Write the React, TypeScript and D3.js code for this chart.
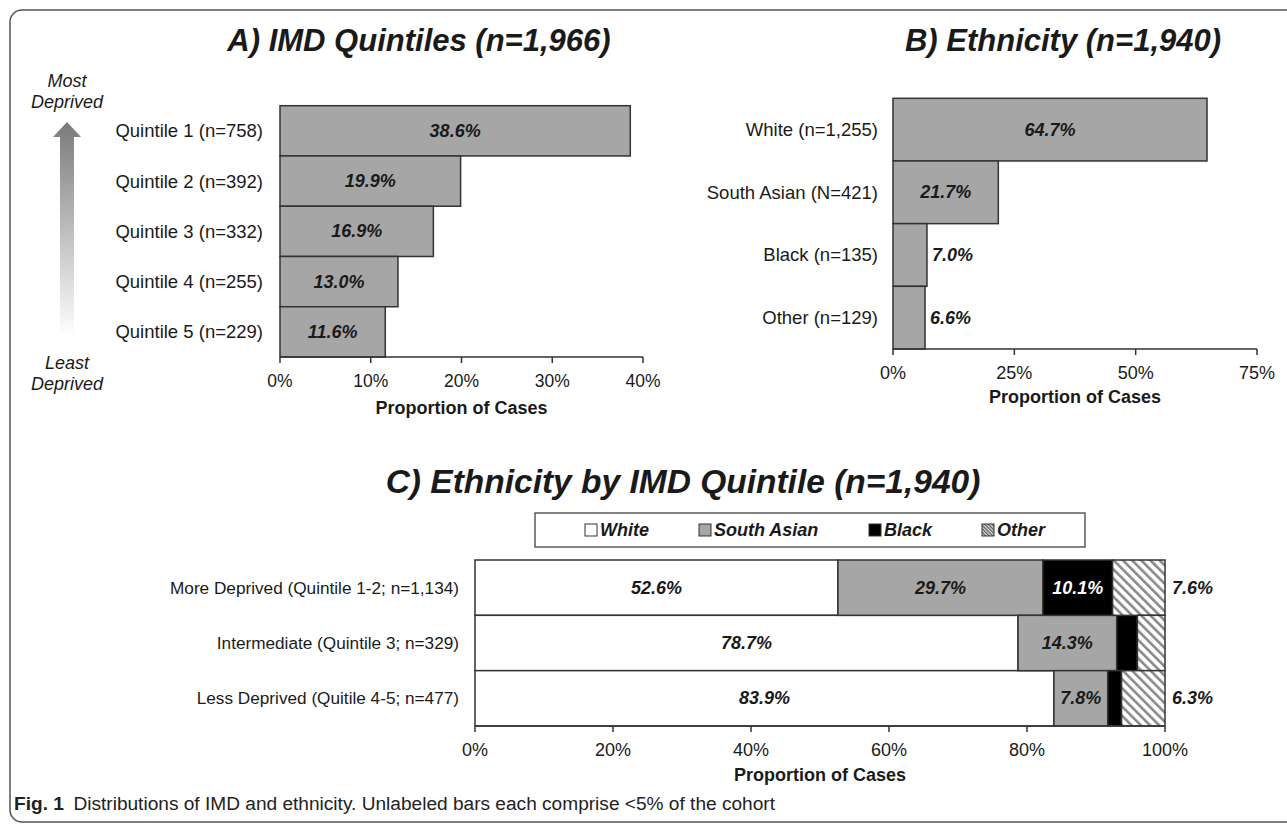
import React from 'react';
import * as d3 from 'd3';

const quintileLabels = ['Quintile 1 (n=758)', 'Quintile 2 (n=392)', 'Quintile 3 (n=332)', 'Quintile 4 (n=255)', 'Quintile 5 (n=229)'];
const quintileValues = [38.6, 19.9, 16.9, 13.0, 11.6];
const quintileTicks = [0, 10, 20, 30, 40];

const ethnicityLabels = ['White (n=1,255)', 'South Asian (N=421)', 'Black (n=135)', 'Other (n=129)'];
const ethnicityValues = [64.7, 21.7, 7.0, 6.6];
const ethnicityTicks = [0, 25, 50, 75];

const groupLabels = ['More Deprived (Quintile 1-2; n=1,134)', 'Intermediate (Quintile 3; n=329)', 'Less Deprived (Quitile 4-5; n=477)'];
const seriesNames = ['White', 'South Asian', 'Black', 'Other'];
const whiteValues = [52.6, 78.7, 83.9];
const southAsianValues = [29.7, 14.3, 7.8];
const blackValues = [10.1, 3.0, 2.0];
const otherValues = [7.6, 4.0, 6.3];
const groupTicks = [0, 20, 40, 60, 80, 100];

const FONT = 'Liberation Sans, Arial, sans-serif';
const GRAY = '#a6a6a6';
const STROKE = '#333';
const TXT = '#1a1a1a';

function fmt(v: number) {
  return v.toFixed(1) + '%';
}

function Axis({ x, y, ticks, title, titleY, labelY, tickSize }: any) {
  const [r0, r1] = x.range();
  return (
    <g>
      <line x1={r0} x2={r1} y1={y} y2={y} stroke={STROKE} strokeWidth={1.5} />
      {ticks.map((t: number) => (
        <g key={t}>
          <line x1={x(t)} x2={x(t)} y1={y} y2={y + 6} stroke={STROKE} strokeWidth={1.5} />
          <text x={x(t)} y={labelY} textAnchor="middle" dominantBaseline="central" fontSize={tickSize} fill={TXT}>{t}%</text>
        </g>
      ))}
      <text x={(r0 + r1) / 2} y={titleY} textAnchor="middle" dominantBaseline="central" fontSize={18} fontWeight="bold" fill={TXT}>{title}</text>
    </g>
  );
}

export default function App() {
  const xA = d3.scaleLinear().domain([0, 40]).range([280, 643]);
  const yA = d3.scaleBand().domain(quintileLabels).range([105.7, 357]).padding(0);
  const xB = d3.scaleLinear().domain([0, 75]).range([893, 1257]);
  const yB = d3.scaleBand().domain(ethnicityLabels).range([98.3, 349]).padding(0);
  const xC = d3.scaleLinear().domain([0, 100]).range([475, 1165]);
  const yC = d3.scaleBand().domain(groupLabels).range([560, 726]).padding(0);

  const rows = groupLabels.map((g, i) => ({
    group: g,
    White: whiteValues[i],
    'South Asian': southAsianValues[i],
    Black: blackValues[i],
    Other: otherValues[i],
  }));
  const stacked = d3.stack<any>().keys(seriesNames)(rows);
  const fills: Record<string, string> = { White: '#ffffff', 'South Asian': GRAY, Black: '#000000', Other: 'url(#hatch)' };
  const legendFills: Record<string, string> = { White: '#ffffff', 'South Asian': GRAY, Black: '#000000', Other: 'url(#hatchSmall)' };
  const legendX = [585, 699, 869, 982];

  return (
    <div style={{ position: 'absolute', left: 0, top: 0 }}>
      <svg width={1287} height={824} style={{ display: 'block', fontFamily: FONT }}>
        <defs>
          <linearGradient id="arrowGrad" x1="0" y1="0" x2="0" y2="1">
            <stop offset="0" stopColor="#7a7a7a" />
            <stop offset="1" stopColor="#ffffff" />
          </linearGradient>
          <pattern id="hatch" patternUnits="userSpaceOnUse" width={6.5} height={6.5} patternTransform="rotate(-45)">
            <rect width={6.5} height={6.5} fill="#fff" />
            <rect x={0} y={0} width={2.6} height={6.5} fill="#8a8a8a" />
          </pattern>
          <pattern id="hatchSmall" patternUnits="userSpaceOnUse" width={2.5} height={2.5} patternTransform="rotate(-45)">
            <rect width={2.5} height={2.5} fill="#ddd" />
            <rect x={0} y={0} width={1.2} height={2.5} fill="#555" />
          </pattern>
        </defs>
        <rect x={0} y={0} width={1287} height={824} fill="#fff" />
        <rect x={10} y={10} width={1300} height={812} rx={12} ry={12} fill="none" stroke="#555" strokeWidth={1.5} />

        {/* Titles */}
        <text x={419} y={40} textAnchor="middle" dominantBaseline="central" fontSize={31} fontWeight="bold" fontStyle="italic" fill={TXT}>A) IMD Quintiles (n=1,966)</text>
        <text x={1063} y={40} textAnchor="middle" dominantBaseline="central" fontSize={31} fontWeight="bold" fontStyle="italic" fill={TXT}>B) Ethnicity (n=1,940)</text>
        <text x={683} y={481} textAnchor="middle" dominantBaseline="central" fontSize={33.5} fontWeight="bold" fontStyle="italic" fill={TXT}>C) Ethnicity by IMD Quintile (n=1,940)</text>

        {/* Arrow */}
        <text x={67} y={81} textAnchor="middle" dominantBaseline="central" fontSize={18} fontStyle="italic" fill={TXT}>Most</text>
        <text x={67} y={102} textAnchor="middle" dominantBaseline="central" fontSize={18} fontStyle="italic" fill={TXT}>Deprived</text>
        <path d="M67,122 L81,137 L74,137 L74,336 L60,336 L60,137 L53,137 Z" fill="url(#arrowGrad)" />
        <text x={67} y={363} textAnchor="middle" dominantBaseline="central" fontSize={18} fontStyle="italic" fill={TXT}>Least</text>
        <text x={67} y={384} textAnchor="middle" dominantBaseline="central" fontSize={18} fontStyle="italic" fill={TXT}>Deprived</text>

        {/* Chart A */}
        {quintileLabels.map((l, i) => {
          const y0 = yA(l)!;
          const h = yA.bandwidth();
          const v = quintileValues[i];
          return (
            <g key={l}>
              <rect x={xA(0)} y={y0} width={xA(v) - xA(0)} height={h} fill={GRAY} stroke={STROKE} strokeWidth={1.5} />
              <text x={263} y={y0 + h / 2} textAnchor="end" dominantBaseline="central" fontSize={18.5} fill={TXT}>{l}</text>
              <text x={(xA(0) + xA(v)) / 2} y={y0 + h / 2} textAnchor="middle" dominantBaseline="central" fontSize={18} fontWeight="bold" fontStyle="italic" fill={TXT}>{fmt(v)}</text>
            </g>
          );
        })}
        <Axis x={xA} y={357} ticks={quintileTicks} title="Proportion of Cases" titleY={408} labelY={381} tickSize={17.5} />

        {/* Chart B */}
        {ethnicityLabels.map((l, i) => {
          const y0 = yB(l)!;
          const h = yB.bandwidth();
          const v = ethnicityValues[i];
          const inside = v >= 10;
          return (
            <g key={l}>
              <rect x={xB(0)} y={y0} width={xB(v) - xB(0)} height={h} fill={GRAY} stroke={STROKE} strokeWidth={1.5} />
              <text x={878} y={y0 + h / 2} textAnchor="end" dominantBaseline="central" fontSize={18.5} fill={TXT}>{l}</text>
              <text x={inside ? (xB(0) + xB(v)) / 2 : xB(v) + 5} y={y0 + h / 2} textAnchor={inside ? 'middle' : 'start'} dominantBaseline="central" fontSize={18} fontWeight="bold" fontStyle="italic" fill={TXT}>{fmt(v)}</text>
            </g>
          );
        })}
        <Axis x={xB} y={349} ticks={ethnicityTicks} title="Proportion of Cases" titleY={397} labelY={373} tickSize={18} />

        {/* Chart C legend */}
        <rect x={535} y={513} width={550} height={34} fill="#fff" stroke="#333" strokeWidth={1.2} />
        {seriesNames.map((s, i) => (
          <g key={s}>
            <rect x={legendX[i]} y={524} width={12} height={12} fill={legendFills[s]} stroke="#333" strokeWidth={1} />
            <text x={legendX[i] + 15} y={530} dominantBaseline="central" fontSize={18} fontWeight="bold" fontStyle="italic" fill={TXT}>{s}</text>
          </g>
        ))}

        {/* Chart C */}
        {stacked.map((series: any) => (
          <g key={series.key}>
            {series.map((d: any, i: number) => {
              const g = groupLabels[i];
              const y0 = yC(g)!;
              const h = yC.bandwidth();
              const v = d[1] - d[0];
              const x0 = xC(d[0]);
              const x1 = xC(d[1]);
              const show = v >= 5;
              const outside = series.key === 'Other';
              return (
                <g key={g}>
                  <rect x={x0} y={y0} width={x1 - x0} height={h} fill={fills[series.key]} stroke={STROKE} strokeWidth={1.5} />
                  {show && (
                    <text x={outside ? xC(100) + 7 : (x0 + x1) / 2} y={y0 + h / 2} textAnchor={outside ? 'start' : 'middle'} dominantBaseline="central" fontSize={18} fontWeight="bold" fontStyle="italic" fill={series.key === 'Black' ? '#fff' : TXT}>{fmt(v)}</text>
                  )}
                </g>
              );
            })}
          </g>
        ))}
        {groupLabels.map((g) => (
          <text key={g} x={459} y={yC(g)! + yC.bandwidth() / 2} textAnchor="end" dominantBaseline="central" fontSize={17.2} fill={TXT}>{g}</text>
        ))}
        <Axis x={xC} y={726} ticks={groupTicks} title="Proportion of Cases" titleY={775} labelY={750} tickSize={18} />

        {/* Caption */}
        <text x={14} y={810} fontSize={18} fill="#222" textLength={761} lengthAdjust="spacingAndGlyphs" fontFamily="'Liberation Sans', Arial, sans-serif">
          <tspan fontWeight="bold">Fig. 1</tspan>
          <tspan dx={9}>Distributions of IMD and ethnicity. Unlabeled bars each comprise &lt;5% of the cohort</tspan>
        </text>
      </svg>
    </div>
  );
}
